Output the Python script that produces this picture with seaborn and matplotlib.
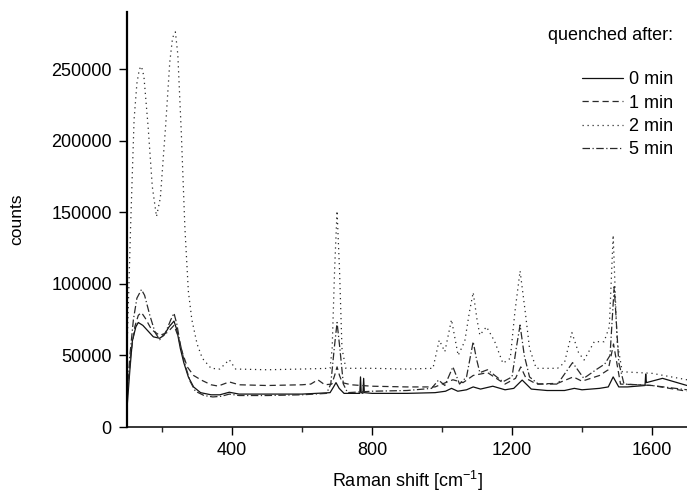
import numpy as np
import pandas as pd
import matplotlib
matplotlib.use("Agg")
import matplotlib.pyplot as plt
import seaborn as sns

# %% data
x_0min = [100, 108, 115, 125, 132, 145, 160, 175, 193, 205, 220, 234, 242, 252, 262, 275, 290,
          310, 340, 365, 392, 420, 500, 600, 680, 690, 697, 706, 720, 765, 767, 769, 774, 776,
          778, 800, 900, 980, 1010, 1027, 1045, 1070, 1089, 1110, 1145, 1180, 1205, 1229, 1255,
          1300, 1350, 1378, 1400, 1450, 1475, 1489, 1505, 1530, 1580, 1582, 1584, 1630, 1700]
y_0min = [14000, 40000, 60000, 70000, 73000, 71000, 67000, 63000, 62000, 64000, 70000, 74000,
          68000, 55000, 45000, 35000, 28000, 24000, 22500, 22500, 24300, 23000, 23000, 23000,
          24000, 28000, 31000, 27000, 23500, 23500, 35000, 24000, 23500, 34000, 24000, 23500,
          23500, 24000, 25000, 27000, 25000, 26000, 28000, 26500, 28500, 26000, 27000, 32800,
          26500, 25500, 25500, 27000, 26000, 27000, 28000, 35000, 28000, 28000, 29000, 37000,
          31000, 34000, 29000]

x_1min = [100, 110, 122, 132, 141, 152, 170, 193, 215, 234, 245, 258, 272, 290, 312, 340, 360,
          392, 420, 500, 600, 625, 645, 665, 685, 693, 700, 707, 715, 740, 800, 900, 980, 1000,
          1031, 1060, 1089, 1130, 1180, 1210, 1225, 1240, 1270, 1330, 1375, 1400, 1450, 1475,
          1490, 1510, 1600, 1700]
y_1min = [20000, 50000, 70000, 78000, 80000, 76000, 68000, 64000, 66000, 71000, 64000, 52000,
          42000, 36000, 32800, 29500, 28600, 31500, 29500, 29000, 29500, 30000, 33000, 29500,
          30000, 36000, 42000, 36000, 31000, 29500, 28500, 28000, 28000, 30000, 33000, 31000,
          36000, 38000, 30000, 34000, 42000, 34000, 30000, 30500, 35000, 32000, 36000, 40000,
          58000, 30000, 29000, 25000]

x_2min = [100, 110, 120, 128, 135, 141, 148, 160, 172, 184, 195, 210, 222, 230, 238, 245, 255,
          265, 275, 285, 300, 315, 340, 365, 392, 410, 500, 600, 680, 686, 693, 700, 707, 714,
          725, 800, 900, 974, 992, 1008, 1027, 1046, 1065, 1078, 1089, 1100, 1108, 1127, 1150,
          1174, 1195, 1208, 1223, 1238, 1250, 1269, 1330, 1350, 1371, 1390, 1406, 1435, 1463,
          1478, 1489, 1500, 1515, 1600, 1700]
y_2min = [55000, 140000, 215000, 240000, 250000, 252000, 245000, 210000, 168000, 147000,
          160000, 210000, 255000, 272000, 276000, 260000, 205000, 140000, 95000, 75000, 58000,
          48000, 41000, 40500, 47000, 40500, 40000, 40500, 41000, 55000, 110000, 151000, 110000,
          55000, 41000, 41000, 40500, 41000, 60700, 52600, 75000, 50000, 60000, 80000, 94000,
          75000, 64200, 70000, 60000, 44500, 48000, 80000, 109000, 80000, 55000, 41000, 41000,
          45000, 66000, 52000, 46800, 59600, 59600, 70000, 134000, 60000, 38600, 37500, 33000]

x_5min = [100, 108, 118, 128, 141, 150, 165, 180, 193, 210, 225, 234, 242, 252, 265, 280, 295,
          320, 345, 370, 392, 420, 500, 600, 670, 682, 692, 700, 708, 718, 730, 800, 900, 970,
          990, 1008, 1031, 1050, 1070, 1080, 1089, 1098, 1108, 1130, 1174, 1200, 1212, 1223,
          1235, 1250, 1275, 1330, 1373, 1405, 1440, 1465, 1480, 1492, 1505, 1520, 1600, 1700]
y_5min = [22000, 50000, 75000, 90000, 96000, 92000, 78000, 66000, 61000, 66000, 75000, 79500,
          72000, 58000, 44000, 32000, 25000, 22000, 21000, 21500, 23000, 22000, 22000, 22500,
          23500, 30000, 55000, 73000, 55000, 30000, 24000, 25000, 25500, 27000, 32800, 29000,
          42000, 30000, 35000, 48000, 59600, 48000, 38000, 40000, 31600, 35000, 55000, 71200,
          50000, 35000, 30000, 30000, 45000, 34000, 40000, 44000, 50000, 98000, 45000, 30000,
          29000, 26000]

labels = ["0 min", "1 min", "2 min", "5 min"]

# %% long format for seaborn
frames = []
for lab, xs, ys in zip(labels, [x_0min, x_1min, x_2min, x_5min], [y_0min, y_1min, y_2min, y_5min]):
    frames.append(pd.DataFrame({"shift": xs, "counts": ys, "quenched": lab}))
df = pd.concat(frames, ignore_index=True)

# %% plotting
sns.set_style("ticks")
plt.rcParams['font.family'] = ['Liberation Sans', 'DejaVu Sans']
plt.rcParams['mathtext.default'] = 'regular'
plt.rcParams['text.color'] = 'black'
plt.rcParams['axes.labelcolor'] = 'black'

fig = plt.figure(figsize=(6.87, 4.94), dpi=100)
ax = fig.add_axes([0.185, 0.1356, 0.815, 0.8404])

dashes = {"0 min": "", "1 min": (5, 3), "2 min": (1, 3), "5 min": (6, 2, 1, 2)}
palette = {"0 min": "#111111", "1 min": "#2a2a2a", "2 min": "#2a2a2a", "5 min": "#2a2a2a"}
sns.lineplot(data=df, x="shift", y="counts", hue="quenched", style="quenched",
             dashes=dashes, palette=palette, estimator=None, sort=True,
             linewidth=0.9, ax=ax)

ax.set_xlim(100, 1700)
ax.set_ylim(0, 290000)
ax.set_xticks([400, 800, 1200, 1600])
ax.set_xticks([200, 600, 1000, 1400], minor=True)
ax.set_yticks([0, 50000, 100000, 150000, 200000, 250000])
ax.set_yticklabels(["0", "50000", "100000", "150000", "200000", "250000"])
ax.tick_params(axis="both", which="major", length=6, width=1, labelsize=13, pad=5, colors="black")
ax.tick_params(axis="x", which="minor", length=3.5, width=1)
sns.despine(ax=ax)
ax.spines["left"].set_linewidth(1.6)
ax.spines["bottom"].set_linewidth(1.1)
ax.spines["left"].set_color("black")
ax.spines["bottom"].set_color("black")

ax.set_xlabel(r"Raman shift [cm$^{-1}$]", fontsize=13, color="black")
ax.set_ylabel("counts", fontsize=12.5, color="black")
ax.xaxis.set_label_coords(0.5, -0.1)
ax.yaxis.set_label_coords(-0.183, 0.5)

handles, labs = ax.get_legend_handles_labels()
ax.get_legend().remove()
leg = fig.legend(handles, labs, loc="upper right", bbox_to_anchor=(673 / 687, 1 - 71 / 494),
                 bbox_transform=fig.transFigure, frameon=False, fontsize=13,
                 handlelength=2.3, handletextpad=0.3, labelspacing=0.36,
                 borderpad=0, borderaxespad=0)
for t in leg.get_texts():
    t.set_color("black")
fig.text(673 / 687, 1 - 35 / 494, "quenched after:", ha="right", va="center", fontsize=13,
         color="black")

fig.savefig("out.png", dpi=100)
